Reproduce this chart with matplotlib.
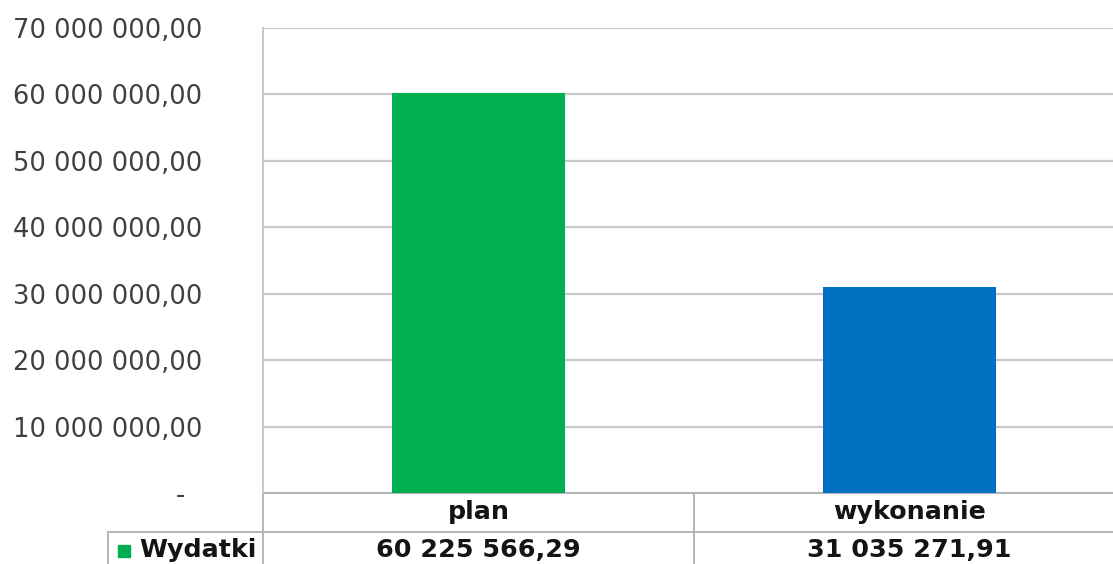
import matplotlib.pyplot as plt
from matplotlib.ticker import FuncFormatter
import matplotlib.transforms as mtransforms

categories = ['plan', 'wykonanie']
values = [60225566.29, 31035271.91]
bar_colors = ['#00b050', '#0070c0']
series_name = 'Wydatki'
y_ticks = [0, 10e6, 20e6, 30e6, 40e6, 50e6, 60e6, 70e6]


def pl_number(v):
    # polski format: spacja jako separator tysięcy, przecinek dziesiętny
    return f'{v:,.2f}'.replace(',', ' ').replace('.', ',')


def y_fmt(v, pos):
    if abs(v) < 1e-6:
        return '-  '
    return pl_number(v)


plt.rcParams['font.family'] = ['DejaVu Sans']
fig = plt.figure(figsize=(11.13, 5.64), dpi=100)

W, H = 1113, 564
left, right, top, bottom = 263, 1125, 28, 493
ax = fig.add_axes([left / W, 1 - bottom / H, (right - left) / W, (bottom - top) / H])

x = list(range(len(categories)))
ax.bar(x, values, width=0.4, color=bar_colors, zorder=3)
ax.set_xlim(-0.5, 1.5)
ax.set_ylim(0, 70e6)
ax.set_yticks(y_ticks)
ax.yaxis.set_major_formatter(FuncFormatter(y_fmt))
ax.tick_params(axis='y', length=0, pad=44, labelsize=18.5, labelcolor='#404040')
ax.set_xticks([])
ax.grid(axis='y', color='#c8c8c8', linewidth=1.6, zorder=0)
for s in ['top', 'right', 'bottom']:
    ax.spines[s].set_visible(False)
ax.spines['left'].set_color('#c8c8c8')
ax.spines['left'].set_linewidth(1.4)

# tabela danych pod wykresem
line_c = '#b4b4b4'
row_end = -(H - 493 + 5) / (bottom - top)
trans = mtransforms.blended_transform_factory(ax.transData, ax.transAxes)
ax.plot([-0.5, -0.5], [0, row_end], transform=trans, color=line_c, lw=1.4, clip_on=False)
ax.plot([0.5, 0.5], [0, row_end], transform=trans, color=line_c, lw=1.4, clip_on=False)
ax.plot([-0.5, 1.5], [0, 0], transform=trans, color=line_c, lw=1.4, clip_on=False)
fig.add_artist(plt.Line2D([108 / W, 1], [1 - 532 / H, 1 - 532 / H], color=line_c, lw=1.4))
fig.add_artist(plt.Line2D([108 / W, 108 / W], [1 - 532 / H, 0], color=line_c, lw=1.4))

for xi, cat, v in zip(x, categories, values):
    ax.text(xi, -(512 - 493) / (bottom - top), cat, transform=trans, ha='center', va='center',
            fontsize=18.3, fontweight='bold', color='#141414', clip_on=False)
    ax.text(xi, -(550 - 493) / (bottom - top), pl_number(v), transform=trans, ha='center',
            va='center', fontsize=18.3, fontweight='bold', color='#141414', clip_on=False)

fig.add_artist(plt.Rectangle((118 / W, 1 - 557 / H), 12 / W, 12 / H, color=bar_colors[0]))
fig.text(139 / W, 1 - 550 / H, series_name, ha='left', va='center', fontsize=18.3,
         fontweight='bold', color='#141414')

fig.savefig('out.png', dpi=100)
